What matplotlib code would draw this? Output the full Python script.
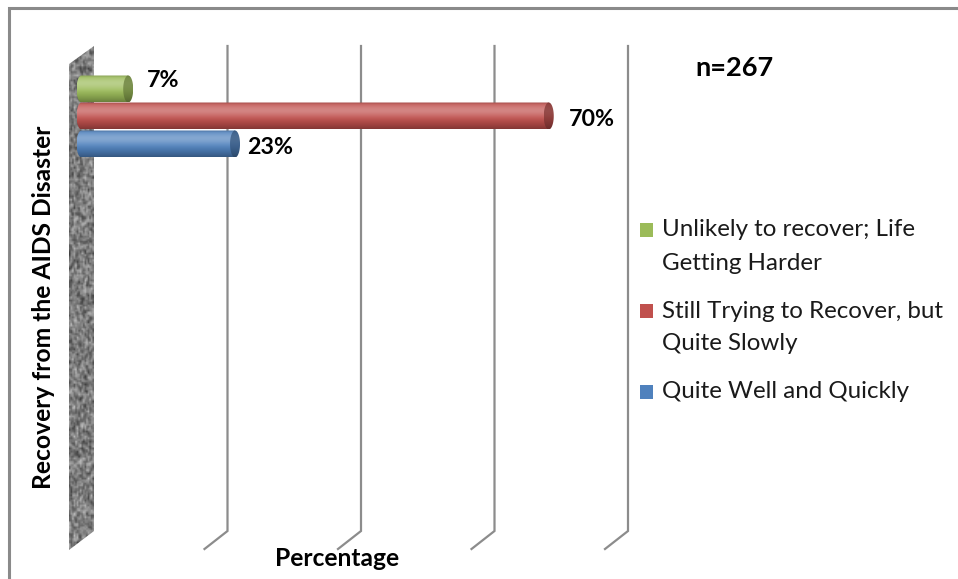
import numpy as np
import matplotlib
matplotlib.use("Agg")
import matplotlib.pyplot as plt
from matplotlib.patches import Polygon, Rectangle
from matplotlib.colors import to_rgb

# ---------------- data ----------------
categories = ["Unlikely to recover; Life\nGetting Harder",
              "Still Trying to Recover, but\nQuite Slowly",
              "Quite Well and Quickly"]
values = [7, 70, 23]
value_labels = ["7%", "70%", "23%"]
series_colors = ["#9BBB59", "#C0504D", "#4F81BD"]
grid_ticks = [20, 40, 60, 80]
sample_note = "n=267"
y_title = "Recovery from the AIDS Disaster"
x_title = "Percentage"

# ---------------- layout ----------------
W, H = 958, 579
PX = 6.675            # pixels per percent
X0 = 94               # pixel x of 0 % on the back plane
DX, DY = -23, 18      # depth offset back -> front (pixels)
TOP, BOT = 46, 531    # back-plane top / bottom (pixels)
BAR_SHIFT = -12.5     # bars sit mid-depth
bar_centers = [89, 116, 144]
bar_h = 27
cap_a = 5.0           # cap half width (px)
label_offsets = [(19, -8.5), (20, 3.5), (12, 3)]

FONT = "Lato"
plt.rcParams['font.family'] = [FONT, 'DejaVu Sans']

fig = plt.figure(figsize=(W / 100, H / 100), dpi=100)
fig.patch.set_facecolor("white")
ax = fig.add_axes([0, 0, 1, 1])
ax.set_autoscale_on(False)
xlim = (-X0 / PX, (W - X0) / PX)
ax.axis('off')

ddx = DX / PX

# ---- textured wall ----
wall_front = (69 - X0) / PX
wall = Polygon([(0, TOP), (0, BOT), (wall_front, BOT + DY + 1), (wall_front, TOP + DY)],
               closed=True, facecolor='none', edgecolor='none', transform=ax.transData)
ax.add_patch(wall)
ny, nx = 300, 16
yy, xx = np.mgrid[0:ny, 0:nx].astype(float)
v = np.sin(xx * 12.9898 + yy * 78.233) * 43758.5453
v = v - np.floor(v)
v = (2 * v + np.roll(v, 1, 0) + np.roll(v, 1, 1) + np.roll(v, -1, 0)) / 5.0
g = 0.18 + 0.62 * v
im = ax.imshow(g, cmap='gray', vmin=0, vmax=1, aspect='auto', interpolation='bilinear',
               extent=[wall_front, 0, BOT + DY + 1, TOP], origin='upper', zorder=1)
im.set_clip_path(wall)

# ---- gridlines ----
for t in grid_ticks:
    ax.plot([t, t, t + ddx], [TOP, BOT, BOT + DY], color='#8c8c8c', lw=1.6,
            solid_joinstyle='miter', zorder=2)


def shade(base, n=64, cap=False):
    base = np.array(to_rgb(base))
    t = np.linspace(0, 1, n)[:, None]
    light = 0.30 * np.exp(-((t - 0.30) / 0.25) ** 2)
    dark = 0.32 * np.clip((t - 0.5) / 0.5, 0, 1) ** 1.6 + 0.15 * np.exp(-(t / 0.06) ** 2)
    if cap:
        light = light * 0.4
        dark = dark * 0.6 + 0.25
    col = base * (1 - light) + light
    col = col * (1 - dark)
    return np.clip(col[:, None, :], 0, 1)


def cylinder(value, yc, color):
    x0 = BAR_SHIFT / PX
    x1 = value + BAR_SHIFT / PX
    a = cap_a / PX
    hh = bar_h / 2
    th = np.linspace(-np.pi / 2, np.pi / 2, 40)
    left = np.column_stack([x0 - a * np.cos(th), yc + hh * np.sin(th)])
    body_pts = np.vstack([left, [[x1, yc + hh], [x1, yc - hh]]])
    body = Polygon(body_pts, closed=True, facecolor='none', edgecolor='none',
                   transform=ax.transData)
    ax.add_patch(body)
    imb = ax.imshow(shade(color), aspect='auto', interpolation='bilinear',
                    extent=[x0 - a, x1 + a, yc + hh, yc - hh], origin='upper', zorder=3)
    imb.set_clip_path(body)
    th2 = np.linspace(0, 2 * np.pi, 80)
    cap_pts = np.column_stack([x1 + a * np.cos(th2), yc + hh * np.sin(th2)])
    cap = Polygon(cap_pts, closed=True, facecolor='none', edgecolor='none',
                  transform=ax.transData)
    ax.add_patch(cap)
    imc = ax.imshow(shade(color, cap=True), aspect='auto', interpolation='bilinear',
                    extent=[x1 - a, x1 + a, yc + hh, yc - hh], origin='upper', zorder=4)
    imc.set_clip_path(cap)
    return x1


renderer = fig.canvas.get_renderer()


def fit(txt, target, vertical=False):
    bb = txt.get_window_extent(renderer)
    w = bb.height if vertical else bb.width
    txt.set_fontsize(txt.get_fontsize() * target / w)


val_texts = []
for val, lab, col, yc, (ox, oy) in zip(values, value_labels, series_colors,
                                        bar_centers, label_offsets):
    x_end = cylinder(val, yc, col)
    t = ax.annotate(lab, xy=(x_end, yc), xytext=(ox, -oy), textcoords='offset pixels',
                    ha='left', va='center', fontsize=16, fontweight='bold', color='black',
                    zorder=6)
    val_texts.append(t)

ax.set_xlim(*xlim)
ax.set_ylim(H, 0)

fit(val_texts[1], 46)
for t in val_texts:
    t.set_fontsize(val_texts[1].get_fontsize())

# ---------------- overlay in pixel coordinates ----------------
ax2 = fig.add_axes([0, 0, 1, 1], zorder=5)
ax2.set_xlim(0, W)
ax2.set_ylim(H, 0)
ax2.axis('off')
ax2.patch.set_alpha(0)

# chart border (top & left visible)
ax2.plot([9, 9, W + 5], [H + 5, 8, 8], color='#8a8a8a', lw=2.2, solid_joinstyle='miter')

# legend
leg_y = 230
line_step = 33
leg_texts = []
for cat, col in zip(categories, series_colors):
    ax2.add_patch(Rectangle((640, leg_y - 7), 13, 14, facecolor=col, edgecolor='none'))
    for i, line in enumerate(cat.split("\n")):
        t = ax2.text(662, leg_y + i * line_step, line, ha='left', va='center',
                     fontsize=15, color='#1a1a1a')
        leg_texts.append(t)
    leg_y += len(cat.split("\n")) * line_step + 15

fit(leg_texts[0], 253)
for t in leg_texts[1:]:
    t.set_fontsize(leg_texts[0].get_fontsize())

tn = ax2.text(734, 68, sample_note, ha='center', va='center', fontsize=19,
              fontweight='bold', color='black')
fit(tn, 78)

tx = ax2.text(337, 558, x_title, ha='center', va='center', fontsize=15,
              fontweight='bold', color='black')
fit(tx, 125)

ty = ax2.text(44, 307, y_title, ha='center', va='center', rotation=90,
              fontsize=15, fontweight='bold', color='black')
fit(ty, 365, vertical=True)

fig.savefig("out.png", dpi=100, facecolor='white')
